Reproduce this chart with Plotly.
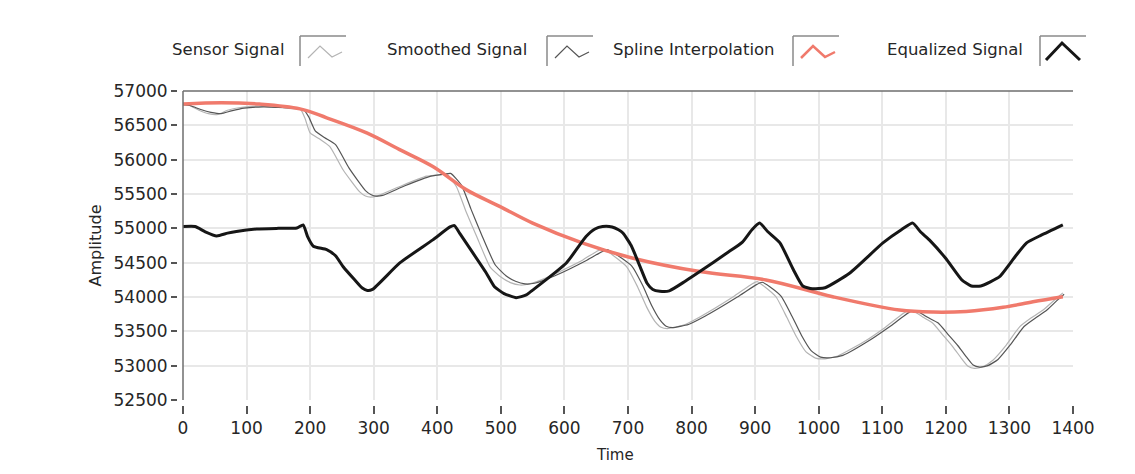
import plotly.graph_objects as go

# ---------------- data ----------------
sensor_t = [0, 10, 25, 40, 55, 70, 90, 120, 150, 175, 185, 192, 200, 215, 231, 252, 278, 287, 295,
            305, 341, 383, 405, 415, 430, 445, 462, 483, 500, 515, 530, 545, 577, 629, 650, 660, 670,
            698, 715, 729, 742, 752, 762, 787, 813, 865, 895, 903, 915, 933, 950, 965, 980, 995, 1010,
            1030, 1075, 1105, 1138, 1148, 1165, 1180, 1195, 1211, 1225, 1235, 1245, 1258, 1274, 1295,
            1316, 1335, 1353, 1370, 1384]
sensor_v = [56800, 56790, 56720, 56670, 56660, 56720, 56760, 56780, 56760, 56740, 56730, 56600,
            56390, 56300, 56190, 55850, 55530, 55470, 55455, 55470, 55610, 55760, 55780, 55790, 55610,
            55250, 54880, 54440, 54290, 54210, 54175, 54190, 54300, 54540, 54660, 54700, 54650,
            54440, 54150, 53860, 53650, 53560, 53540, 53590, 53710, 54000, 54190, 54225, 54150, 54000,
            53700, 53420, 53200, 53110, 53100, 53140, 53370, 53560, 53790, 53800, 53700, 53615, 53450,
            53275, 53100, 52990, 52960, 52985, 53080, 53300, 53565, 53700, 53810, 53950, 54060]

smooth_t = [0, 12, 28, 44, 60, 76, 96, 126, 156, 180, 189, 198, 208, 223, 240, 261, 287, 296, 304,
            314, 349, 390, 411, 421, 438, 453, 470, 491, 508, 523, 538, 553, 585, 636, 657, 667, 678,
            706, 723, 737, 750, 760, 770, 795, 821, 872, 902, 911, 923, 941, 958, 973, 988, 1003, 1018,
            1038, 1082, 1112, 1145, 1155, 1172, 1188, 1203, 1219, 1233, 1243, 1253, 1266, 1282, 1302,
            1323, 1342, 1359, 1375, 1386]
smooth_v = [56800, 56785, 56730, 56690, 56670, 56710, 56750, 56770, 56760, 56745, 56735, 56620,
            56420, 56320, 56220, 55880, 55550, 55490, 55470, 55480, 55620, 55760, 55790, 55800, 55630,
            55280, 54900, 54470, 54310, 54230, 54190, 54200, 54310, 54540, 54650, 54690, 54640,
            54450, 54170, 53880, 53670, 53575, 53555, 53600, 53720, 54000, 54180, 54215, 54150, 54010,
            53720, 53440, 53220, 53125, 53115, 53150, 53380, 53570, 53790, 53790, 53700, 53620, 53460,
            53290, 53120, 53010, 52980, 53000, 53090, 53310, 53570, 53700, 53810, 53950, 54040]

spline_t = [0, 60, 120, 184, 226, 289, 340, 393, 446, 498, 550, 629, 708, 813, 917, 1022,
            1127, 1180, 1232, 1290, 1337, 1384]
spline_v = [56810, 56830, 56810, 56740, 56610, 56390, 56150, 55900, 55560, 55320, 55076, 54784,
            54565, 54370, 54248, 54004, 53810, 53780, 53790, 53850, 53930, 54004]

equal_t = [0, 19, 35, 53, 70, 84, 116, 150, 179, 189, 196, 205, 226, 240, 252, 270, 282, 290, 298,
           341, 393, 420, 427, 435, 477, 490, 505, 524, 540, 550, 603, 634, 648, 660, 675, 685, 692,
           705, 719, 730, 739, 750, 765, 790, 813, 855, 880, 895, 907, 920, 939, 960, 975, 990, 1010,
           1049, 1101, 1130, 1148, 1160, 1174, 1200, 1225, 1240, 1255, 1270, 1285, 1310, 1327, 1350,
           1384]
equal_v = [55026, 55026, 54950, 54890, 54930, 54955, 54990, 55000, 55005, 55050, 54880, 54740,
           54690, 54600, 54440, 54250, 54130, 54095, 54110, 54496, 54832, 55020, 55040, 54930, 54350,
           54150, 54050, 53990, 54030, 54100, 54496, 54880, 54990, 55026, 55020, 54980, 54933, 54750,
           54442, 54200, 54110, 54085, 54090, 54230, 54370, 54637, 54800, 54980, 55076, 54950, 54788,
           54400, 54160, 54120, 54135, 54350, 54788, 54980, 55076, 54950, 54832, 54560, 54250, 54160,
           54160, 54220, 54300, 54600, 54788, 54900, 55051]

x_ticks = [0, 100, 200, 300, 400, 500, 600, 700, 800, 900, 1000, 1100, 1200, 1300, 1400]
y_ticks = [52500, 53000, 53500, 54000, 54500, 55000, 55500, 56000, 56500, 57000]

legend_names = ["Sensor Signal", "Smoothed Signal", "Spline Interpolation", "Equalized Signal"]
x_title = "Time"
y_title = "Amplitude"

# ---------------- styling ----------------
FONT = "DejaVu Sans, sans-serif"
C_TEXT = "#262626"
C_SENSOR = "#b4b4b4"
C_SMOOTH = "#555555"
C_SPLINE = "#f07a6c"
C_EQUAL = "#161616"

OFF = 8  # the page body adds an 8 px margin; target pixel positions are compensated
W, H = 1135, 474
# target window pixel positions
T_LEFT, T_RIGHT, T_TOP, T_BOTTOM = 183, 1073, 91, 400
T_PAPER_LEFT = 168
T_YTICK = 177
GAP = 5

ML = T_PAPER_LEFT - OFF
MT = T_TOP - OFF
MR = W - (T_RIGHT - OFF)
MB = H - (T_BOTTOM + GAP - OFF)
PW, PH = W - ML - MR, H - MT - MB

fig = go.Figure()
fig.add_trace(go.Scatter(x=sensor_t, y=sensor_v, mode="lines", name=legend_names[0],
                         line=dict(color=C_SENSOR, width=1.2, shape="spline", smoothing=0.5),
                         showlegend=False))
fig.add_trace(go.Scatter(x=smooth_t, y=smooth_v, mode="lines", name=legend_names[1],
                         line=dict(color=C_SMOOTH, width=1.2, shape="spline", smoothing=0.5),
                         showlegend=False))
fig.add_trace(go.Scatter(x=spline_t, y=spline_v, mode="lines", name=legend_names[2],
                         line=dict(color=C_SPLINE, width=3.5, shape="spline"), showlegend=False))
fig.add_trace(go.Scatter(x=equal_t, y=equal_v, mode="lines", name=legend_names[3],
                         line=dict(color=C_EQUAL, width=3, shape="spline", smoothing=0.5),
                         showlegend=False))


def px_x(px):
    return (px - OFF - ML) / PW


def px_y(py):
    return (H - MB - (py - OFF)) / PH


shapes = []
annotations = []

# plot-area frame: top and left lines
shapes.append(dict(type="line", xref="x domain", yref="y domain", x0=0, x1=1, y0=1, y1=1,
                   line=dict(color="#6e6e6e", width=1.5)))
shapes.append(dict(type="line", xref="x domain", yref="y domain", x0=0, x1=0, y0=0, y1=1,
                   line=dict(color="#6e6e6e", width=1.5)))

# manual legend (text left of the sample box)
legend_specs = [
    (287, 300, C_SENSOR, 1.2),
    (529, 547, C_SMOOTH, 1.2),
    (777, 793, C_SPLINE, 2.5),
    (1025, 1040, C_EQUAL, 3),
]
ly = 50
for name, (tx, bx, col, lw) in zip(legend_names, legend_specs):
    annotations.append(dict(text=name, xref="paper", yref="paper", x=px_x(tx), y=px_y(ly),
                            xanchor="right", yanchor="middle", showarrow=False,
                            font=dict(family=FONT, size=16.5, color=C_TEXT)))
    bw, bt, bb = 46, 36, 66
    shapes.append(dict(type="line", xref="paper", yref="paper", x0=px_x(bx), x1=px_x(bx + bw),
                       y0=px_y(bt), y1=px_y(bt), line=dict(color="#8a8a8a", width=1.5)))
    shapes.append(dict(type="line", xref="paper", yref="paper", x0=px_x(bx), x1=px_x(bx),
                       y0=px_y(bt), y1=px_y(bb), line=dict(color="#8a8a8a", width=1.5)))
    if name == "Equalized Signal":
        pts = [(bx + 6, 60), (bx + 22, 43), (bx + 40, 60)]
    else:
        pts = [(bx + 8, 58), (bx + 20, 46), (bx + 32, 57), (bx + 42, 52)]
    path = "M " + " L ".join(f"{px_x(a):.5f},{px_y(b):.5f}" for a, b in pts)
    shapes.append(dict(type="path", xref="paper", yref="paper", path=path,
                       line=dict(color=col, width=lw)))

# x-axis title placed as in the reference (slightly left of centre)
annotations.append(dict(text=x_title, xref="paper", yref="paper", x=px_x(615), y=px_y(455),
                        xanchor="center", yanchor="middle", showarrow=False,
                        font=dict(family=FONT, size=15, color=C_TEXT)))

fig.update_layout(
    width=W, height=H,
    margin=dict(l=ML, r=MR, t=MT, b=MB, pad=0, autoexpand=False),
    paper_bgcolor="white", plot_bgcolor="white",
    font=dict(family=FONT, size=18, color=C_TEXT),
    shapes=shapes, annotations=annotations,
    xaxis=dict(range=[0, 1400], domain=[(T_LEFT - T_PAPER_LEFT) / PW, 1], tickvals=x_ticks,
               ticktext=[str(v) for v in x_ticks],
               anchor="free", position=0, showline=False, zeroline=False,
               ticks="outside", ticklen=8, tickwidth=1.5, tickcolor="#555555",
               showgrid=True, gridcolor="#e8e8e8", gridwidth=1.5,
               tickfont=dict(family=FONT, size=17, color=C_TEXT)),
    yaxis=dict(range=[52500, 57000], domain=[GAP / PH, 1], tickvals=y_ticks,
               ticktext=[str(v) for v in y_ticks],
               anchor="free", position=(T_YTICK - T_PAPER_LEFT) / PW,
               showline=False, zeroline=False, ticks="outside", ticklen=6, tickwidth=1.5,
               tickcolor="#555555", showgrid=True, gridcolor="#e8e8e8", gridwidth=1.5,
               tickfont=dict(family=FONT, size=17, color=C_TEXT),
               title=dict(text=y_title, font=dict(family=FONT, size=16, color=C_TEXT),
                          standoff=6)),
)

fig.write_html("out.html")
